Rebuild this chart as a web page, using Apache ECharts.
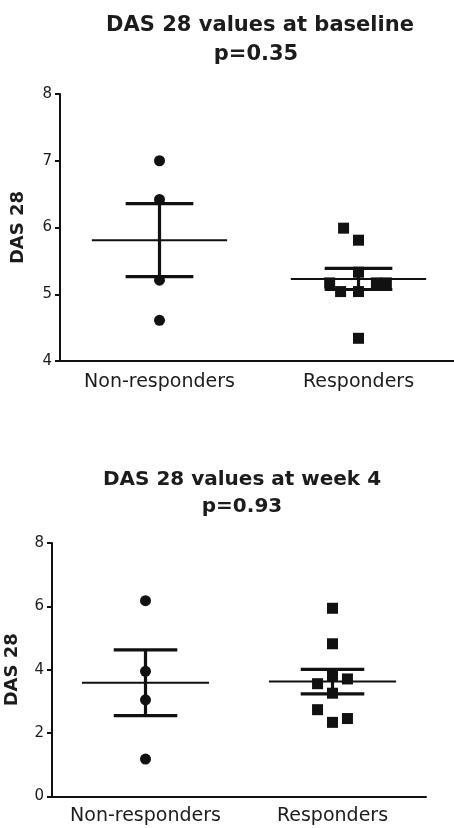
<!DOCTYPE html>
<html>
<head>
<meta charset="utf-8">
<script src="https://cdn.jsdelivr.net/npm/echarts@6/dist/echarts.min.js"></script>
<style>
html,body{margin:0;padding:0;background:#fff;}
#chart{width:454px;height:828px;}
</style>
</head>
<body>
<div id="chart"></div>
<script>
// ---- data ----
const categories = ['Non-responders', 'Responders'];
const titles = ['DAS 28 values at baseline', 'DAS 28 values at week 4'];
const pValues = ['p=0.35', 'p=0.93'];
const yName = 'DAS 28';

const baseNonResp = [7.0, 6.42, 5.21, 4.61];
const baseNonRespJitter = [0, 0, 0, 0];
const baseResp = [5.99, 5.81, 5.33, 5.17, 5.17, 5.17, 5.04, 5.04, 4.34];
const baseRespJitter = [-0.075, 0, 0, -0.145, 0.09, 0.14, -0.09, 0, 0];

const wk4NonResp = [6.18, 3.95, 3.05, 1.18];
const wk4NonRespJitter = [0, 0, 0, 0];
const wk4Resp = [5.94, 4.82, 3.81, 3.71, 3.56, 3.26, 2.74, 2.46, 2.34];
const wk4RespJitter = [0, 0, 0, 0.08, -0.08, 0, -0.08, 0.08, 0];

const baseTicks = {min: 4, max: 8, interval: 1};
const wk4Ticks = {min: 0, max: 8, interval: 2};

// ---- helpers ----
function meanSem(arr) {
  const n = arr.length;
  const m = arr.reduce((a, b) => a + b, 0) / n;
  const v = arr.reduce((a, b) => a + (b - m) * (b - m), 0) / (n - 1);
  return [m, Math.sqrt(v) / Math.sqrt(n)];
}
function pts(vals, jit, catIdx) {
  return vals.map((v, i) => [catIdx + 1 + jit[i], v]);
}
const INK = '#111111';
const TXT = '#1c1c1c';
const FONT = 'DejaVu Sans';

function errSeries(xIdx, yIdx, groups) {
  return {
    type: 'custom', xAxisIndex: xIdx, yAxisIndex: yIdx, silent: true, z: 3,
    data: groups.map((g, i) => { const ms = meanSem(g); return [i + 1, ms[0], ms[1]]; }),
    renderItem: function (params, api) {
      const x = api.value(0), m = api.value(1), s = api.value(2);
      const line = (a, b, w) => ({
        type: 'line',
        shape: {x1: a[0], y1: a[1], x2: b[0], y2: b[1]},
        style: {stroke: INK, lineWidth: w}
      });
      return {
        type: 'group',
        children: [
          line(api.coord([x - 0.34, m]), api.coord([x + 0.34, m]), 2),
          line(api.coord([x - 0.17, m + s]), api.coord([x + 0.17, m + s]), 3.2),
          line(api.coord([x - 0.17, m - s]), api.coord([x + 0.17, m - s]), 3.2),
          line(api.coord([x, m - s]), api.coord([x, m + s]), 3.2)
        ]
      };
    }
  };
}

function catAxis(grid, margin) {
  return {
    gridIndex: grid, type: 'category', data: categories, boundaryGap: true,
    axisLine: {lineStyle: {color: INK, width: 2}},
    axisTick: {alignWithLabel: true, length: 6, lineStyle: {color: INK, width: 2}},
    axisLabel: {color: TXT, fontSize: 19, fontFamily: FONT, margin: margin, interval: 0},
    splitLine: {show: false}
  };
}
function valXAxis(grid) {
  return {gridIndex: grid, type: 'value', min: 0.5, max: 2.5, show: false};
}
function yAxis(grid, t, gap) {
  return {
    gridIndex: grid, type: 'value', min: t.min, max: t.max, interval: t.interval,
    name: yName, nameLocation: 'middle', nameGap: gap, nameRotate: 90,
    nameTextStyle: {color: TXT, fontSize: 18, fontWeight: 'bold', fontFamily: FONT},
    axisLine: {show: true, lineStyle: {color: INK, width: 2}},
    axisTick: {show: true, length: 5, lineStyle: {color: INK, width: 2}},
    axisLabel: {color: TXT, fontSize: 15, fontFamily: FONT, margin: 8},
    splitLine: {show: false}
  };
}
function titleItem(text, cx, cy, size) {
  return {
    text: text, left: cx, top: cy - size / 2, textAlign: 'center', padding: 0,
    textStyle: {color: TXT, fontSize: size, fontWeight: 'bold', fontFamily: FONT, lineHeight: size}
  };
}
function scatter(xIdx, yIdx, sym, data) {
  return {type: 'scatter', xAxisIndex: xIdx, yAxisIndex: yIdx, symbol: sym, symbolSize: 11,
    itemStyle: {color: INK, opacity: 1}, data: data, z: 4};
}

const chart = echarts.init(document.getElementById('chart'), null, {renderer: 'canvas'});
chart.setOption({
  backgroundColor: '#fff',
  animation: false,
  title: [
    titleItem(titles[0], 260, 26, 21),
    titleItem(pValues[0], 256, 55, 21),
    titleItem(titles[1], 242, 480, 20),
    titleItem(pValues[1], 242, 507, 20)
  ],
  grid: [
    {left: 60, top: 94, width: 398, height: 267, outerBoundsMode: 'none', containLabel: false},
    {left: 52, top: 543, width: 374, height: 253.5, outerBoundsMode: 'none', containLabel: false}
  ],
  xAxis: [catAxis(0, 12), valXAxis(0), catAxis(1, 10), valXAxis(1)],
  yAxis: [yAxis(0, baseTicks, 33), yAxis(1, wk4Ticks, 31)],
  series: [
    scatter(1, 0, 'circle', pts(baseNonResp, baseNonRespJitter, 0)),
    scatter(1, 0, 'rect', pts(baseResp, baseRespJitter, 1)),
    errSeries(1, 0, [baseNonResp, baseResp]),
    scatter(3, 1, 'circle', pts(wk4NonResp, wk4NonRespJitter, 0)),
    scatter(3, 1, 'rect', pts(wk4Resp, wk4RespJitter, 1)),
    errSeries(3, 1, [wk4NonResp, wk4Resp])
  ]
});
</script>
</body>
</html>
